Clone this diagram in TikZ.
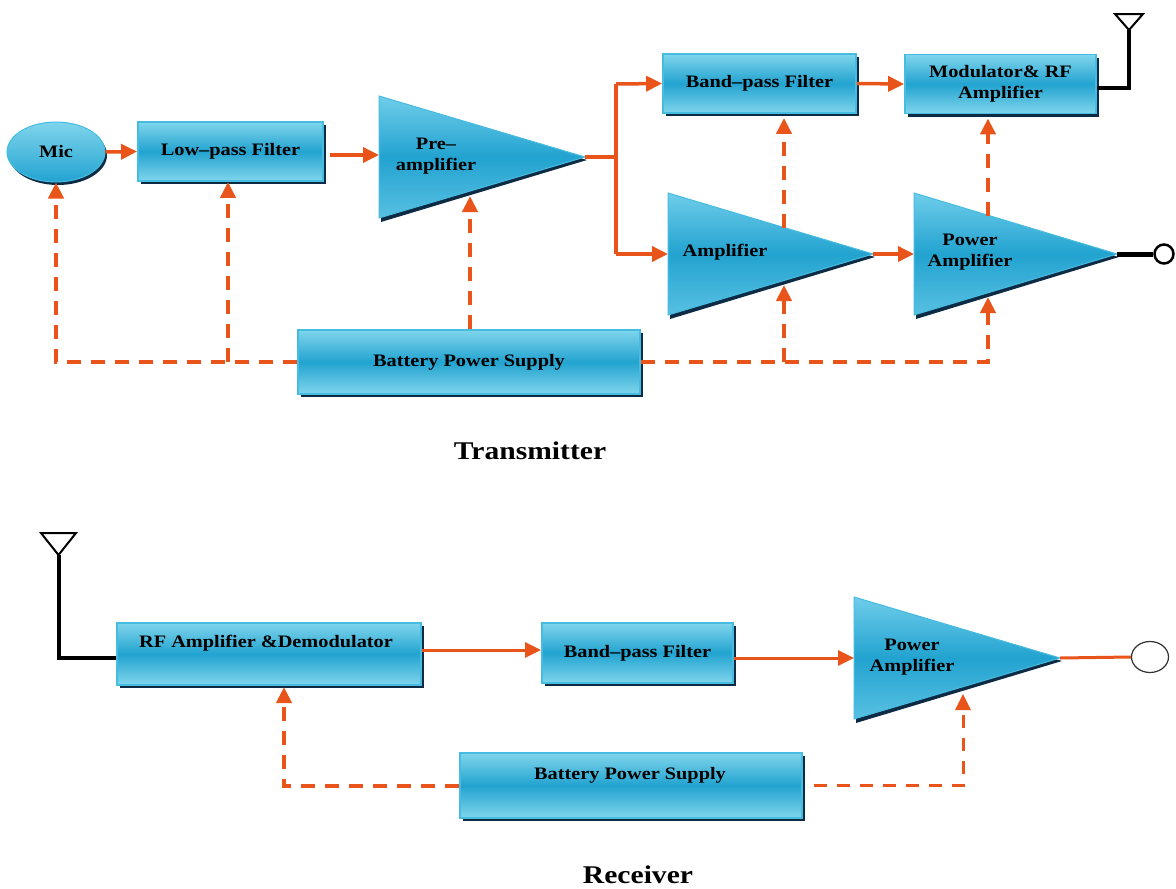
\documentclass[tikz,border=0pt]{standalone}
\usepackage{fontspec}
\setmainfont{Liberation Serif}[FakeStretch=1.16]
\usetikzlibrary{arrows.meta,shadows,calc,shapes.geometric}
\definecolor{orng}{HTML}{E8541A}
\definecolor{cyL}{HTML}{80D5EC}
\definecolor{cyM}{HTML}{22A3D0}
\definecolor{cyB}{HTML}{45BCE0}
\definecolor{triL}{HTML}{6FCDEA}
\definecolor{triB}{HTML}{58C0E2}
\definecolor{shd}{HTML}{0E2B45}
\newcommand\drawamp[4]{%
  \fill[shd] (#1+2,#2+4) -- (#1+2,#3+4) -- (#4+2,{(#2+#3)/2+3}) -- cycle;
  \shade[top color=triL, bottom color=triB, middle color=cyM, draw=cyB, line width=1pt]
    (#1,#2) -- (#1,#3) -- (#4,{(#2+#3)/2}) -- cycle;}
\begin{document}
\begin{tikzpicture}[x=1pt,y=-1pt,
  txt/.style={font=\fontsize{17.5}{21.5}\selectfont\bfseries, align=center, inner sep=0pt},
  box/.style={draw=cyB, line width=1.8pt, top color=cyL, bottom color=cyL, middle color=cyM,
    drop shadow={shadow xshift=3pt, shadow yshift=-3pt, fill=shd, opacity=1},
    txt},
  mic/.style={ellipse, draw=cyB, line width=1pt, top color=cyL, bottom color=cyM,
    drop shadow={shadow xshift=2pt, shadow yshift=-3pt, fill=shd, opacity=1}, txt},
  tip/.style={-{Triangle[length=16pt,width=15pt]}},
  sig/.style={orng, line width=3.5pt, tip},
  pwr/.style={orng, line width=4pt, dash pattern=on 14pt off 10pt, tip},
  antl/.style={black, line width=4pt},
  title/.style={font=\fontsize{25.5}{30}\selectfont\bfseries, inner sep=0pt, anchor=base}]
\useasboundingbox (0,0) rectangle (1176,889);

% ================= Transmitter =================
\node[mic, minimum width=98pt, minimum height=60pt] (mic) at (56,152) {Mic};
\node[box, minimum width=185pt, minimum height=59pt] (lpf) at (230.5,151.5) {Low–pass Filter};
\drawamp{379}{96}{218}{585}
\node[txt] (pre) at (436,156) {Pre–\\amplifier};
\node[box, minimum width=193pt, minimum height=59pt] (bpf) at (759.5,83.5) {Band–pass Filter};
\node[box, minimum width=191pt, minimum height=59pt] (mod) at (1000.5,84) {Modulator\& RF\\Amplifier};
\drawamp{668}{193}{315}{873}
\node[txt] (amp) at (725,252) {Amplifier};
\drawamp{914}{193}{315}{1117}
\node[txt] (pa) at (970,252) {Power\\Amplifier};
\node[box, minimum width=342pt, minimum height=64pt] (bat) at (469,362) {Battery Power Supply};

\coordinate (pre-in) at (379,155);
\coordinate (pre-out) at (585,157);
\coordinate (pre-pw) at (470,196);
\coordinate (split) at (616,157);
\coordinate (split-t) at (616,84);
\coordinate (split-b) at (616,254);
\coordinate (amp-in) at (668,254);
\coordinate (amp-out) at (873,254);
\coordinate (amp-pw) at (784,285);
\coordinate (amp-up) at (784,228);
\coordinate (pa-in) at (914,254);
\coordinate (pa-out) at (1117,254);
\coordinate (pa-pw) at (988,297);
\coordinate (pa-up) at (988,216);
\coordinate (tant) at (1129,30);
\coordinate (tant-c) at (1129,88);
\coordinate (j-bl) at (228,362);
\coordinate (j-br) at (784,362);

% signal path
\draw[sig] (mic.east) -- (lpf.west);
\draw[sig, shorten <=6pt] (lpf.east |- pre-in) -- (pre-in);
\draw[orng, line width=3.5pt] (pre-out) -- (split);
\draw[orng, line width=3.5pt] (split-t) -- (split-b);
\draw[sig] (split-t) -- (bpf.west);
\draw[sig] (split-b) -- (amp-in);
\draw[sig] (bpf.east) -- (mod.west);
\draw[sig] (amp-out) -- (pa-in);
% antenna
\draw[antl] ($(mod.east)+(0,4)$) -- (tant-c) -- (tant);
\draw[black, line width=2pt, line join=miter] (1115,14) -- (1143,14) -- (tant) -- cycle;
% output
\node[circle, draw=black, line width=2.5pt, fill=white, minimum size=19pt, inner sep=0pt] (txout) at (1164,254) {};
\draw[black, line width=5pt] (pa-out) -- (txout.west);

% power lines
\draw[pwr] (bat.west) -| (mic.south);
\draw[pwr] (j-bl) -- (j-bl |- lpf.south);
\draw[pwr] (bat.north -| pre-pw) -- (pre-pw);
\draw[pwr] (bat.east) -| (pa-pw);
\draw[pwr] (j-br) -- (amp-pw);
\draw[pwr, shorten >=4pt] (amp-up) -- (amp-up |- bpf.south);
\draw[pwr, shorten >=4pt] (pa-up) -- (pa-up |- mod.south);

\node[title] (ttx) at (530,459) {Transmitter};

% ================= Receiver =================
\node[box, minimum width=304pt, minimum height=62pt] (rfa) at (269,654) {};
\node[txt] (rfa-t) at (266,643) {RF Amplifier \&Demodulator};
\node[box, minimum width=191pt, minimum height=60pt] (rbpf) at (637.5,653) {Band–pass Filter};
\drawamp{854}{597}{719}{1060}
\node[txt] (rpa) at (912,657) {Power\\Amplifier};
\node[box, minimum width=342pt, minimum height=65pt] (rbat) at (631,785.5) {};
\node[txt] (rbat-t) at (630,775) {Battery Power Supply};

\coordinate (rant) at (58.5,555);
\coordinate (rpa-in) at (854,658);
\coordinate (rpa-out) at (1060,658);
\coordinate (rfa-pw) at (284,687);
\coordinate (rpa-pw) at (963,694);

\draw[black, line width=2pt, line join=miter] (41,533) -- (76,533) -- (rant) -- cycle;
\draw[antl] (rant) |- ($(rfa.west)+(0,4)$);
\draw[sig, line width=3pt] ($(rfa.east)+(0,-4)$) -- ($(rbpf.west)+(0,-3)$);
\draw[sig, line width=3pt] ($(rbpf.east)+(0,5)$) -- (rpa-in);
\node[ellipse, draw=black!80, line width=1.2pt, fill=white, minimum width=37pt, minimum height=31pt, inner sep=0pt] (rxout) at (1150,657) {};
\draw[orng, line width=3pt] (rpa-out) -- (rxout.west);
\draw[pwr] (rbat.west) -| (rfa-pw);
\draw[pwr, line width=3pt, dash pattern=on 13pt off 10pt] ($(rbat.east)+(11,0)$) -| (rpa-pw);

\node[title] (trx) at (638,883) {Receiver};
\end{tikzpicture}
\end{document}
